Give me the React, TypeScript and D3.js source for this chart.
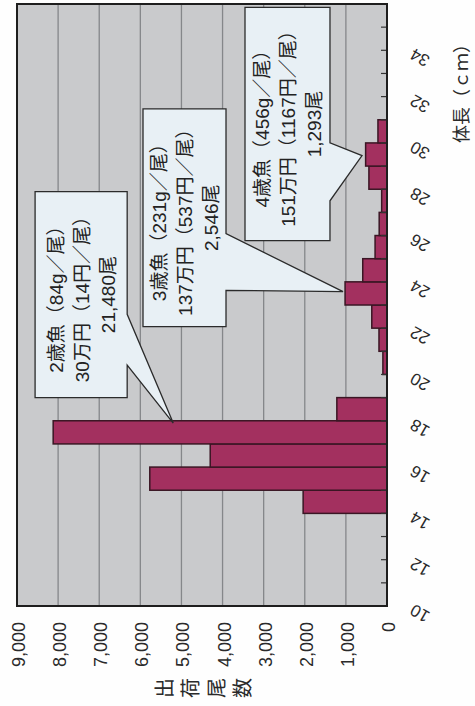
import React from "react";
import * as d3 from "d3";

// ---- data ----
const binStarts = [14, 15, 16, 17, 18, 19, 20, 21, 22, 23, 24, 25, 26, 27, 28, 29, 30];
const counts = [2040, 5770, 4300, 8120, 1220, 0, 100, 195, 370, 1020, 590, 290, 190, 130, 440, 520, 220];
const valueTicks = [0, 1000, 2000, 3000, 4000, 5000, 6000, 7000, 8000, 9000];
const lengthLabels = [10, 12, 14, 16, 18, 20, 22, 24, 26, 28, 30, 32, 34];
const minorTicks = d3.range(10, 36, 1);
const valueTitle = ["出", "荷", "尾", "数"];
const lengthTitle = "体長（ｃｍ）";

const calloutText = [
  ["2歳魚（84g／尾）", "30万円（14円／尾）", "21,480尾"],
  ["3歳魚（231g／尾）", "137万円（537円／尾）", "2,546尾"],
  ["4歳魚（456g／尾）", "151万円（1167円／尾）", "1,293尾"],
];
// callout geometry in data units: value range, length range, pointer base (length), tip (value, length)
const calloutBoxV = [[8560, 6320], [5935, 3916], [3454, 1387]];
const calloutBoxL = [[27.9, 19.0], [31.47, 22.07], [35.85, 25.78]];
const calloutBaseL = [[22.6, 20.4], [26.08, 23.63], [30.0, 27.5]];
const calloutTip = [[5200, 17.9], [1070, 23.58], [608, 29.45]];

const W = 475;
const H = 706;
const FONT = "'Liberation Sans', 'Noto Sans CJK JP', sans-serif";

export default function App() {
  const xV = d3.scaleLinear().domain([0, 9000]).range([387, 17]);
  const yL = d3.scaleLinear().domain([10, 36]).range([606, 4]);

  const callouts = calloutText.map((lines, i) => {
    const xa = xV(calloutBoxV[i][0]);
    const xb = xV(calloutBoxV[i][1]);
    const ya = yL(calloutBoxL[i][0]);
    const yb = yL(calloutBoxL[i][1]);
    const b1 = yL(calloutBaseL[i][0]);
    const b2 = yL(calloutBaseL[i][1]);
    const tx = xV(calloutTip[i][0]);
    const ty = yL(calloutTip[i][1]);
    const p = d3.path();
    p.moveTo(xa, ya);
    p.lineTo(xb, ya);
    p.lineTo(xb, b1);
    p.lineTo(tx, ty);
    p.lineTo(xb, b2);
    p.lineTo(xb, yb);
    p.lineTo(xa, yb);
    p.closePath();
    const cx = (xa + xb) / 2 + 1;
    const cy = (ya + yb) / 2;
    return { d: p.toString(), cx, cy, lines };
  });

  return (
    <svg
      width={W}
      height={H}
      style={{ position: "absolute", left: 0, top: 0, background: "#fefefe" }}
      fontFamily={FONT}
    >
      {/* plot background */}
      <rect x={xV(9000)} y={yL(36)} width={xV(0) - xV(9000)} height={yL(10) - yL(36)} fill="#c9cacc" />
      {/* gridlines */}
      {valueTicks.slice(1, -1).map((v) => (
        <line key={v} x1={xV(v)} x2={xV(v)} y1={yL(36)} y2={yL(10)} stroke="#85878a" strokeWidth={1.3} />
      ))}
      {/* bars */}
      {binStarts.map((s, i) =>
        counts[i] > 0 ? (
          <rect
            key={s}
            x={xV(counts[i])}
            y={yL(s + 1)}
            width={xV(0) - xV(counts[i])}
            height={yL(s) - yL(s + 1)}
            fill="#a3305f"
            stroke="#3a1624"
            strokeWidth={1.5}
          />
        ) : null
      )}
      {/* minor ticks on length axis */}
      {minorTicks.map((t) => (
        <line key={t} x1={xV(0) - 6} x2={xV(0)} y1={yL(t)} y2={yL(t)} stroke="#333" strokeWidth={1.2} />
      ))}
      {/* frame */}
      <rect
        x={xV(9000)}
        y={yL(36)}
        width={xV(0) - xV(9000)}
        height={yL(10) - yL(36)}
        fill="none"
        stroke="#1e1e1e"
        strokeWidth={2}
      />
      {/* value tick labels */}
      {valueTicks.map((v) => (
        <text
          key={v}
          transform={`translate(${xV(v) + 2},622) rotate(-90)`}
          textAnchor="end"
          dominantBaseline="central"
          fontSize={18}
          fill="#2a2a2a"
        >
          {d3.format(",")(v)}
        </text>
      ))}
      {/* value axis title (vertical text rotated) */}
      {valueTitle.map((c, i) => (
        <text
          key={c}
          transform={`translate(${165 + i * 26},688) rotate(-90)`}
          textAnchor="middle"
          dominantBaseline="central"
          fontSize={20}
          fill="#2a2a2a"
        >
          {c}
        </text>
      ))}
      {/* length tick labels */}
      {lengthLabels.map((l) => (
        <text
          key={l}
          transform={`translate(420,${yL(l) + 7}) rotate(-150)`}
          textAnchor="middle"
          dominantBaseline="central"
          fontSize={17}
          fill="#2a2a2a"
        >
          {l}
        </text>
      ))}
      {/* length axis title */}
      <text
        transform={`translate(462,89) rotate(-90)`}
        textAnchor="middle"
        dominantBaseline="central"
        fontSize={18}
        fill="#2a2a2a"
      >
        {lengthTitle}
      </text>
      {/* callouts */}
      {callouts.map((c, i) => (
        <g key={i}>
          <path d={c.d} fill="#e8f0f5" stroke="#2b2b2b" strokeWidth={1.3} strokeLinejoin="miter" />
          {c.lines.map((ln, j) => (
            <text
              key={j}
              transform={`translate(${c.cx + (j - 1) * 26},${c.cy}) rotate(-90)`}
              textAnchor="middle"
              dominantBaseline="central"
              fontSize={19}
              fill="#222"
            >
              {ln}
            </text>
          ))}
        </g>
      ))}
    </svg>
  );
}
